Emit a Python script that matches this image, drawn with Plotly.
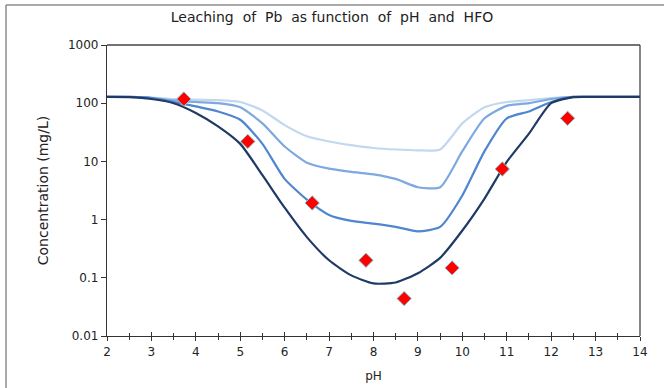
import plotly.graph_objects as go

# ---- data ----
ph_grid = [2.0, 2.5, 3.0, 3.5, 4.0, 4.5, 5.0, 5.5, 6.0, 6.5, 7.0, 7.5, 8.0, 8.5, 9.0, 9.5, 10.0, 10.5, 11.0, 11.5, 12.0, 12.5, 13.0, 13.5, 14.0]

hfo_1 = [128, 128, 125, 118, 115, 113, 105, 75, 42, 27, 22, 19, 17, 16, 15.5, 16, 45, 85, 105, 113, 122, 128, 128, 128, 128]
hfo_2 = [128, 128, 124, 112, 105, 100, 85, 45, 18, 9.5, 7.5, 6.6, 6.0, 5.0, 3.6, 3.6, 15, 55, 90, 100, 118, 128, 128, 128, 128]
hfo_3 = [128, 128, 122, 105, 88, 72, 52, 20, 5.0, 2.2, 1.2, 0.95, 0.85, 0.75, 0.63, 0.75, 2.6, 15, 55, 72, 105, 128, 128, 128, 128]
hfo_4 = [128, 127, 118, 100, 68, 40, 20, 5.8, 1.6, 0.5, 0.2, 0.11, 0.08, 0.083, 0.12, 0.22, 0.65, 2.3, 9.8, 30, 100, 127, 128, 128, 128]

meas_ph = [3.73, 5.17, 6.62, 7.83, 8.69, 9.77, 10.9, 12.37]
meas_conc = [118, 22, 1.93, 0.20, 0.044, 0.148, 7.4, 55]

series = [hfo_1, hfo_2, hfo_3, hfo_4]
colors = ["#C2D8F0", "#7DA8E0", "#4F86CF", "#1F3A64"]

y_ticks = [0.01, 0.1, 1, 10, 100, 1000]
y_tick_text = ["0.01", "0.1", "1", "10", "100", "1000"]
x_ticks = list(range(2, 15))

fig = go.Figure()
for s, c in zip(series, colors):
    fig.add_trace(go.Scatter(x=ph_grid, y=s, mode="lines", line=dict(color=c, width=2.2, shape="spline", smoothing=0.6),
                             showlegend=False, hoverinfo="skip"))
fig.add_trace(go.Scatter(x=meas_ph, y=meas_conc, mode="markers",
                         marker=dict(symbol="diamond", size=11, color="#FF0000", line=dict(color="#7FC8C8", width=1)),
                         showlegend=False))

font = "DejaVu Sans, Verdana, sans-serif"
fig.update_layout(
    width=664, height=388,
    margin=dict(l=107, r=24, t=45, b=52),
    paper_bgcolor="white", plot_bgcolor="white",
    title=dict(text="Leaching  of  Pb  as function  of  pH  and  HFO", x=0.5, xanchor="center",
               y=(388 - 17) / 388, yanchor="middle", font=dict(family=font, size=14, color="#222")),
    font=dict(family=font, size=12, color="#222"),
    xaxis=dict(range=[2, 14], tickvals=x_ticks, showgrid=False, zeroline=False, automargin=False,
               showline=True, linecolor="#333", linewidth=1.3, mirror=False,
               ticks="outside", ticklen=4, tickwidth=1.2, tickcolor="#333",
               minor=dict(dtick=0.5, ticks="outside", ticklen=3, tickcolor="#333", tickwidth=1),
               title=dict(text="pH", font=dict(size=12), standoff=14), tickfont=dict(size=12)),
    xaxis2=dict(range=[2, 14], overlaying="x", side="bottom", tickvals=x_ticks, showticklabels=False,
                showgrid=False, zeroline=False, automargin=False,
                ticks="inside", ticklen=4, tickwidth=1.2, tickcolor="#333",
                minor=dict(dtick=0.5, ticks="inside", ticklen=3, tickcolor="#333", tickwidth=1)),
    yaxis=dict(type="log", range=[-2, 3], tickvals=y_ticks, ticktext=y_tick_text, showgrid=False,
               zeroline=False, showline=True, linecolor="#333", linewidth=1.3, automargin=False,
               ticks="outside", ticklen=5, tickwidth=1.2, tickcolor="#333",
               title=dict(text="Concentration (mg/L)", font=dict(size=14), standoff=16), tickfont=dict(size=12)),
)
# invisible trace to activate xaxis2
fig.add_trace(go.Scatter(x=[2], y=[1], xaxis="x2", mode="markers", marker=dict(opacity=0), showlegend=False, hoverinfo="skip"))

# plot-area top/right frame
fig.add_shape(type="line", xref="paper", yref="paper", x0=0, x1=1, y0=1, y1=1, line=dict(color="#444", width=1.3))
fig.add_shape(type="line", xref="paper", yref="paper", x0=1, x1=1, y0=0, y1=1, line=dict(color="#444", width=1.3))
# outer chart border (left and top visible)
fig.add_shape(type="line", xref="paper", yref="paper", x0=(6 - 107) / 533, x1=(6 - 107) / 533,
              y0=(336 - 400) / 291, y1=(336 - 5) / 291, line=dict(color="#8C8C8C", width=1.5))
fig.add_shape(type="line", xref="paper", yref="paper", x0=(6 - 107) / 533, x1=(700 - 107) / 533,
              y0=(336 - 5) / 291, y1=(336 - 5) / 291, line=dict(color="#8C8C8C", width=1.5))

fig.write_html("out.html", config={"displayModeBar": False},
               post_script="document.body.style.margin='0';document.body.style.overflow='hidden';")
